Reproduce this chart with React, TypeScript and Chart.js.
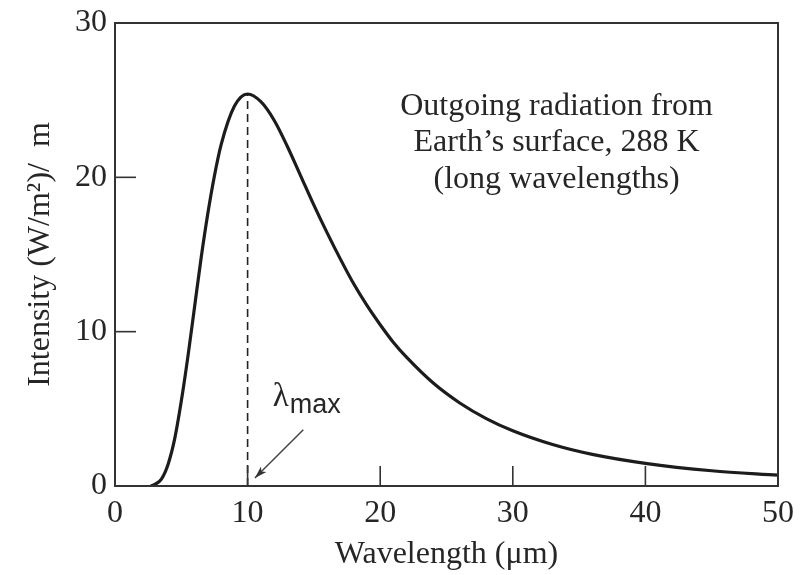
import React, { useEffect, useRef } from "react";
import { Chart, registerables } from "chart.js";

Chart.register(...registerables);

// Wavelength (µm) and intensity (W/m²)/µm
const wavelength = [2.7, 3, 3.5, 4, 4.5, 5, 5.5, 6, 6.5, 7, 7.5, 8, 9, 10, 11, 12, 13, 14, 15, 16, 17, 18, 19, 20, 21, 22, 24, 26, 28, 30, 33, 36, 40, 45, 50];
const intensity = [0, 0.1, 0.45, 1.4, 3.05, 5.5, 8.4, 11.6, 14.8, 17.65, 20.1, 22.1, 24.6, 25.4, 24.9, 23.7, 22.0, 20.1, 18.2, 16.4, 14.7, 13.1, 11.7, 10.45, 9.3, 8.33, 6.67, 5.38, 4.37, 3.58, 2.69, 2.05, 1.47, 0.99, 0.7];

// Peak marker (λmax)
const peakX = [10, 10];
const peakY = [0, 25.4];

const xTicks = [0, 10, 20, 30, 40, 50];
const yTicks = [0, 10, 20, 30];

const annotationLines = ["Outgoing radiation from", "Earth\u2019s surface, 288 K", "(long wavelengths)"];

const SERIF = "'Liberation Serif', 'Times New Roman', serif";
const INK = "#262626";
const FS = 32;

const framePlugin = {
  id: "frameAndNotes",
  afterDraw(chart: any) {
    const { ctx, chartArea } = chart;
    const xs = chart.scales.x;
    const ys = chart.scales.y;
    ctx.save();
    // frame
    ctx.strokeStyle = "#333";
    ctx.lineWidth = 2;
    ctx.strokeRect(chartArea.left, chartArea.top, chartArea.right - chartArea.left, chartArea.bottom - chartArea.top);
    // inward ticks
    ctx.lineWidth = 1.6;
    xTicks.slice(1, -1).forEach((v) => {
      const px = xs.getPixelForValue(v);
      ctx.beginPath();
      ctx.moveTo(px, chartArea.bottom);
      ctx.lineTo(px, chartArea.bottom - 20);
      ctx.stroke();
    });
    yTicks.slice(1, -1).forEach((v) => {
      const py = ys.getPixelForValue(v);
      ctx.beginPath();
      ctx.moveTo(chartArea.left, py);
      ctx.lineTo(chartArea.left + 21, py);
      ctx.stroke();
    });
    // annotation text
    ctx.fillStyle = INK;
    ctx.font = `${FS}px ${SERIF}`;
    ctx.textAlign = "center";
    ctx.textBaseline = "middle";
    const ax = xs.getPixelForValue(33.3);
    annotationLines.forEach((t, i) => {
      const py = ys.getPixelForValue(24.6 - i * 2.37);
      ctx.fillText(t, ax, py);
    });
    // lambda max label
    ctx.textAlign = "left";
    ctx.textBaseline = "alphabetic";
    const lx = xs.getPixelForValue(11.9);
    const ly = ys.getPixelForValue(5.2);
    ctx.font = `33px ${SERIF}`;
    ctx.fillText("\u03bb", lx, ly);
    const lw = ctx.measureText("\u03bb").width;
    ctx.font = `27px 'Liberation Sans', Arial, sans-serif`;
    ctx.fillText("max", lx + lw + 1, ly + 7);
    // arrow
    const x1 = xs.getPixelForValue(14.2), y1 = ys.getPixelForValue(3.65);
    const x2 = xs.getPixelForValue(10.55), y2 = ys.getPixelForValue(0.52);
    ctx.strokeStyle = "#444";
    ctx.lineWidth = 1.5;
    ctx.beginPath();
    ctx.moveTo(x1, y1);
    ctx.lineTo(x2, y2);
    ctx.stroke();
    const ang = Math.atan2(y2 - y1, x2 - x1);
    const hl = 13, hw = 0.3;
    ctx.fillStyle = "#333";
    ctx.beginPath();
    ctx.moveTo(x2, y2);
    ctx.lineTo(x2 - hl * Math.cos(ang - hw), y2 - hl * Math.sin(ang - hw));
    ctx.lineTo(x2 - hl * 0.7 * Math.cos(ang), y2 - hl * 0.7 * Math.sin(ang));
    ctx.lineTo(x2 - hl * Math.cos(ang + hw), y2 - hl * Math.sin(ang + hw));
    ctx.closePath();
    ctx.fill();
    ctx.restore();
  },
};

export default function App() {
  const ref = useRef<HTMLCanvasElement>(null);
  useEffect(() => {
    document.body.style.margin = "0";
    const canvas = ref.current;
    if (!canvas) return;
    const chart = new Chart(canvas, {
      type: "line",
      data: {
        datasets: [
          {
            data: wavelength.map((x, i) => ({ x, y: intensity[i] })),
            borderColor: "#1c1c1c",
            borderWidth: 3.2,
            pointRadius: 0,
            cubicInterpolationMode: "monotone",
            fill: false,
          },
          {
            data: peakX.map((x, i) => ({ x, y: peakY[i] })),
            borderColor: "#222",
            borderWidth: 1.6,
            borderDash: [8, 5],
            pointRadius: 0,
            fill: false,
          },
        ],
      },
      options: {
        responsive: false,
        animation: false,
        events: [],
        layout: { padding: { left: 0, right: 26, top: 23, bottom: 0 } },
        plugins: { legend: { display: false }, tooltip: { enabled: false } },
        scales: {
          x: {
            type: "linear",
            min: 0,
            max: 50,
            afterFit: (s: any) => { s.height = 89; s.paddingLeft = 0; s.paddingRight = 0; },
            afterBuildTicks: (s: any) => { s.ticks = xTicks.map((v) => ({ value: v })); },
            grid: { display: false, drawTicks: false },
            border: { display: false },
            ticks: { color: INK, font: { family: SERIF, size: FS }, padding: 8, maxRotation: 0 },
            title: { display: true, text: "Wavelength (\u03bcm)", color: INK, font: { family: SERIF, size: FS }, padding: { top: 0, bottom: 1 } },
          },
          y: {
            type: "linear",
            min: 0,
            max: 30,
            afterFit: (s: any) => { s.width = 115; s.paddingTop = 0; s.paddingBottom = 0; },
            afterBuildTicks: (s: any) => { s.ticks = yTicks.map((v) => ({ value: v })); },
            grid: { display: false, drawTicks: false },
            border: { display: false },
            ticks: { color: INK, font: { family: SERIF, size: FS }, padding: 8 },
            title: { display: true, text: "Intensity (W/m\u00b2)/  m", color: INK, font: { family: SERIF, size: FS }, padding: { top: 21, bottom: 0 } },
          },
        },
      },
      plugins: [framePlugin],
    } as any);
    return () => chart.destroy();
  }, []);
  return (
    <div style={{ width: 804, height: 575, background: "#fff" }}>
      <canvas ref={ref} width={804} height={575} style={{ display: "block" }} />
    </div>
  );
}
